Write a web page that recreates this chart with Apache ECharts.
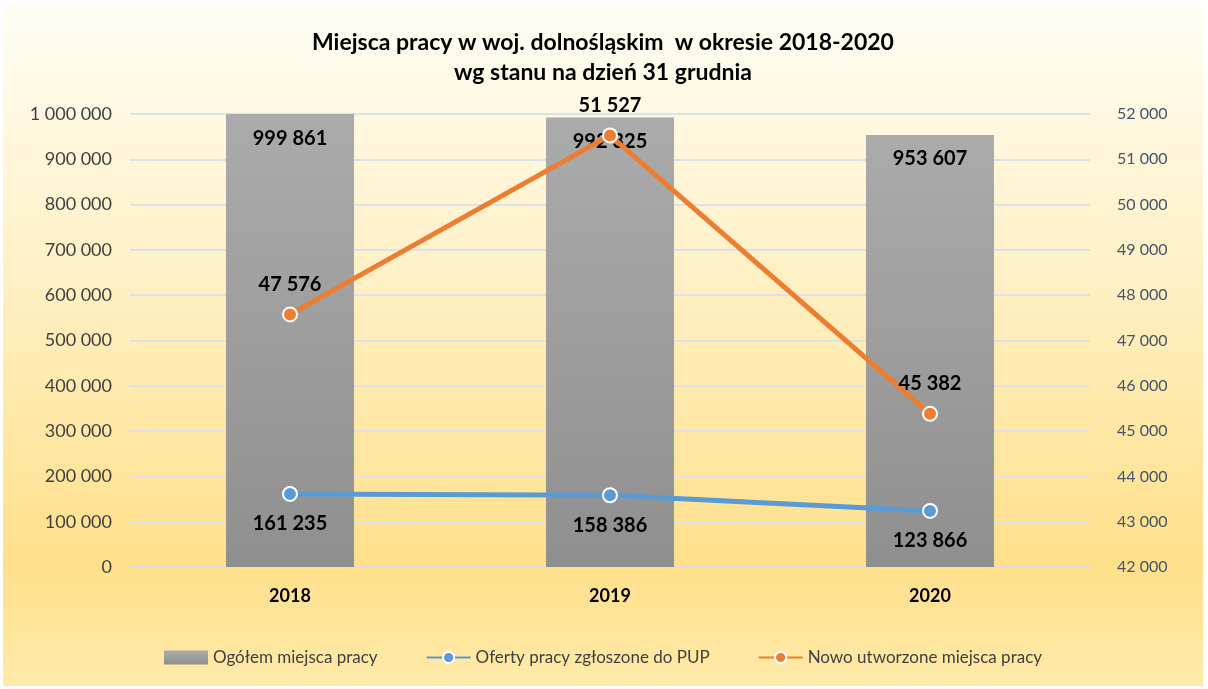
<!DOCTYPE html>
<html>
<head>
<meta charset="utf-8">
<script src="https://cdn.jsdelivr.net/npm/echarts@6/dist/echarts.min.js"></script>
<style>
  html, body { margin: 0; padding: 0; background: #fff; }
  #chart { position: absolute; left: 3px; top: 6px; width: 1200px; height: 680px; }
</style>
</head>
<body>
<div id="chart"></div>
<script>
// dane
const years = ['2018', '2019', '2020']
const ogolem = [999861, 992325, 953607]
const oferty = [161235, 158386, 123866]
const nowe = [47576, 51527, 45382]
const leftTicks = { min: 0, max: 1000000, interval: 100000 }
const rightTicks = { min: 42000, max: 52000, interval: 1000 }

const FONT = 'Lato, "Open Sans", sans-serif'
const fmt = v => String(v).replace(/\B(?=(\d{3})+(?!\d))/g, ' ')

const chart = echarts.init(document.getElementById('chart'))
chart.setOption({
  backgroundColor: new echarts.graphic.LinearGradient(0, 0, 0, 1, [
    { offset: 0, color: '#fffdf4' },
    { offset: 0.4, color: '#fff0c4' },
    { offset: 0.82, color: '#ffe08a' },
    { offset: 1, color: '#ffeaaa' },
  ]),
  textStyle: { fontFamily: FONT },
  title: {
    text: 'Miejsca pracy w woj. dolnośląskim  w okresie 2018-2020\nwg stanu na dzień 31 grudnia',
    left: 'center', top: 17,
    textStyle: { fontSize: 23, fontWeight: 'bold', color: '#000', lineHeight: 30, fontFamily: FONT },
  },
  grid: { left: 127, right: 113, top: 108, bottom: 119 },
  legend: {
    bottom: 15, left: 'center', itemGap: 48, itemWidth: 44, itemHeight: 14,
    textStyle: { fontSize: 17, color: '#404040', fontFamily: FONT },
    data: [
      { name: 'Ogółem miejsca pracy', icon: 'rect' },
      { name: 'Oferty pracy zgłoszone do PUP' },
      { name: 'Nowo utworzone miejsca pracy' },
    ],
  },
  xAxis: {
    type: 'category', data: years,
    axisLine: { show: true, lineStyle: { color: '#d9dde3', width: 2 } },
    axisTick: { show: false },
    axisLabel: { fontSize: 18, fontWeight: 'bold', color: '#000', margin: 20 },
  },
  yAxis: [
    {
      type: 'value', ...leftTicks,
      axisLabel: { fontSize: 18, color: '#404040', margin: 18, formatter: fmt },
      splitLine: { lineStyle: { color: '#dde2ea', width: 2 } },
    },
    {
      type: 'value', ...rightTicks,
      axisLabel: { fontSize: 16, color: '#44546a', margin: 27, formatter: fmt },
      splitLine: { show: false },
    },
  ],
  series: [
    {
      name: 'Ogółem miejsca pracy', type: 'bar', data: ogolem, barWidth: '40%',
      itemStyle: {
        color: new echarts.graphic.LinearGradient(0, 0, 0, 1, [
          { offset: 0, color: '#ababab' },
          { offset: 1, color: '#8f8f8f' },
        ]),
      },
      label: {
        show: true, position: 'insideTop', distance: 14, formatter: p => fmt(p.value),
        fontSize: 20, fontWeight: 'bold', color: '#000',
      },
      z: 1,
    },
    {
      name: 'Oferty pracy zgłoszone do PUP', type: 'line', data: oferty,
      symbol: 'circle', symbolSize: 14,
      lineStyle: { width: 5, color: '#5b9bd5' },
      itemStyle: { color: '#5b9bd5', borderColor: '#fff', borderWidth: 2 },
      label: {
        show: true, position: 'bottom', distance: 12, formatter: p => fmt(p.value),
        fontSize: 20, fontWeight: 'bold', color: '#000',
      },
      z: 3,
    },
    {
      name: 'Nowo utworzone miejsca pracy', type: 'line', yAxisIndex: 1, data: nowe,
      symbol: 'circle', symbolSize: 14,
      lineStyle: { width: 5, color: '#ed7d31' },
      itemStyle: { color: '#ed7d31', borderColor: '#fff', borderWidth: 2 },
      label: {
        show: true, position: 'top', distance: 12, formatter: p => fmt(p.value),
        fontSize: 20, fontWeight: 'bold', color: '#000',
      },
      z: 4,
    },
  ],
})
</script>
</body>
</html>
